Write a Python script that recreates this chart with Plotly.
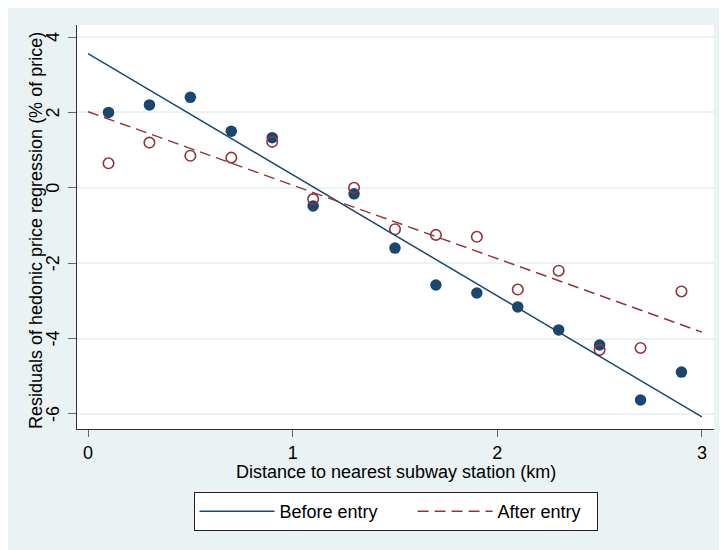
import plotly.graph_objects as go

# ---- data ----
distance_km = [0.1, 0.3, 0.5, 0.7, 0.9, 1.1, 1.3, 1.5, 1.7, 1.9, 2.1, 2.3, 2.5, 2.7, 2.9]
before_resid = [2.0, 2.2, 2.4, 1.5, 1.33, -0.48, -0.16, -1.6, -2.58, -2.79, -3.16, -3.77, -4.17, -5.63, -4.89]
after_resid = [0.65, 1.2, 0.85, 0.8, 1.22, -0.3, 0.0, -1.1, -1.25, -1.3, -2.7, -2.2, -4.3, -4.25, -2.75]
fit_x = [0.0, 3.0]
before_fit = [3.56, -6.08]
after_fit = [2.02, -3.83]
x_ticks = [0, 1, 2, 3]
x_tick_labels = ["0", "1", "2", "3"]
y_ticks = [-6, -4, -2, 0, 2, 4]
y_tick_labels = ["-6", "-4", "-2", "0", "2", "4"]

NAVY = "#1a476f"
MAROON = "#90353b"
BG = "#eaf2f3"
FONT = "Liberation Sans, Arial, sans-serif"
FS = 18
NB = "\u00a0"

fig = go.Figure()
fig.add_trace(go.Scatter(x=distance_km, y=before_resid, mode="markers",
                         marker=dict(symbol="circle", size=11.5, color=NAVY),
                         showlegend=False, hoverinfo="skip"))
fig.add_trace(go.Scatter(x=distance_km, y=after_resid, mode="markers",
                         marker=dict(symbol="circle-open", size=10.5, color=MAROON,
                                     line=dict(width=1.6, color=MAROON)),
                         showlegend=False, hoverinfo="skip"))
fig.add_trace(go.Scatter(x=fit_x, y=before_fit, mode="lines", name="Before entry" + NB * 6,
                         line=dict(color=NAVY, width=1.5)))
fig.add_trace(go.Scatter(x=fit_x, y=after_fit, mode="lines", name="After entry" + NB * 2,
                         line=dict(color=MAROON, width=1.5, dash="11px,6px")))

# page has an 8px body margin: figure spans page x 8..727, y 8..550
W, H = 719, 542
L, T, R, B = 69, 17, 13, 121
PW, PH = W - L - R, H - T - B

annotations = [
    dict(text="Distance to nearest subway station (km)", xref="paper", yref="paper",
         x=0.5, y=-(464 - (T + PH)) / PH,
         xanchor="center", yanchor="middle", showarrow=False, font=dict(size=FS)),
    dict(text="Residuals of hedonic price regression (% of price)", xref="paper", yref="paper",
         x=(28 - L) / PW, y=0.49, textangle=-90,
         xanchor="center", yanchor="middle", showarrow=False, font=dict(size=FS)),
]
for v, lab in zip(y_ticks, y_tick_labels):
    annotations.append(dict(text=lab, xref="paper", yref="y", x=(45 - L) / PW, y=v,
                            textangle=-90, xanchor="center", yanchor="middle",
                            showarrow=False, font=dict(size=FS)))

fig.update_layout(
    width=W, height=H,
    margin=dict(l=L, r=R, t=T, b=B, autoexpand=False),
    paper_bgcolor=BG,
    plot_bgcolor="white",
    font=dict(family=FONT, size=FS, color="black"),
    xaxis=dict(range=[-0.054, 3.059], tickvals=x_ticks, ticktext=x_tick_labels,
               showgrid=False, zeroline=False, automargin=False,
               showline=True, linecolor="#333333", linewidth=1.2,
               ticks="outside", ticklen=7, tickcolor="#666666", tickwidth=1.2,
               tickfont=dict(size=FS)),
    yaxis=dict(range=[-6.40, 4.32], tickvals=y_ticks, showticklabels=False,
               showgrid=True, gridcolor=BG, gridwidth=1.5, zeroline=False, automargin=False,
               showline=True, linecolor="#333333", linewidth=1.2,
               ticks="outside", ticklen=8, tickcolor="#666666", tickwidth=1.2),
    annotations=annotations,
    legend=dict(orientation="h", x=0.5, xanchor="center", y=-63 / PH, yanchor="top",
                bordercolor="#222222", borderwidth=1, bgcolor="white",
                font=dict(size=FS), itemwidth=75),
)

fig.write_html("out.html")
